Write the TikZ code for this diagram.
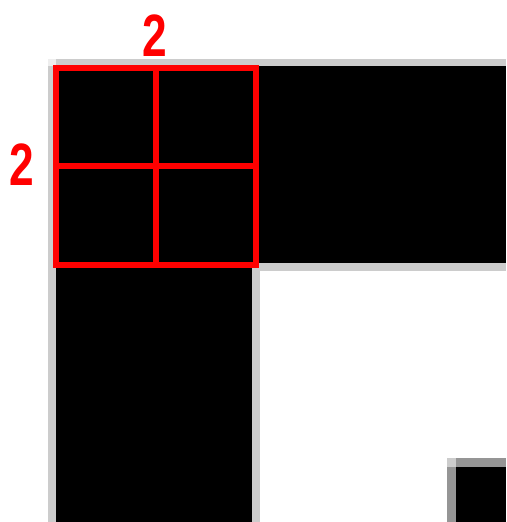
\documentclass[tikz,border=0pt]{standalone}
\usepackage{fontspec}
\setmainfont{Liberation Sans}
\definecolor{edgegray}{RGB}{204,204,204}
\definecolor{cornergray}{RGB}{238,238,238}
\definecolor{darkgray}{RGB}{149,149,149}
\definecolor{gridred}{RGB}{255,0,0}
\begin{document}
\begin{tikzpicture}[x=0.01cm, y=-0.01cm]
        \tikzstyle{blk} = [fill=black]
        \tikzstyle{edge} = [fill=edgegray]
        \tikzstyle{grid} = [draw=gridred, line width=0.06cm]
        \tikzstyle{lbl} = [text=gridred, font=\bfseries\fontsize{17}{18}\selectfont, xscale=0.74, inner sep=0pt]
        \useasboundingbox (0,0) rectangle (506,522);
        % gray borders of the L
        \fill [cornergray] (48,59) rectangle (56,66);
        \fill [edge] (56,59) rectangle (506,66);
        \fill [edge] (48,66) rectangle (56,522);
        \fill [edge] (252,263) rectangle (506,271);
        \fill [edge] (252,263) rectangle (260,522);
        % black L
        \fill [blk] (56,66) rectangle (506,263);
        \fill [blk] (56,66) rectangle (252,522);
        % small block at the corner
        \fill [edgegray] (447,458) rectangle (456,467);
        \fill [darkgray] (456,458) rectangle (506,467);
        \fill [darkgray] (447,467) rectangle (456,522);
        \fill [blk] (456,467) rectangle (506,522);
        % red 2x2 grid
        \draw [grid] (56,68) rectangle (256,265);
        \draw [grid] (156,68) -- (156,265); \draw [grid] (56,166) -- (256,166);
        \node [lbl] (top) at (155,36) {2};
        \node [lbl] (left) at (22,165) {2};
    \end{tikzpicture}
\end{document}
